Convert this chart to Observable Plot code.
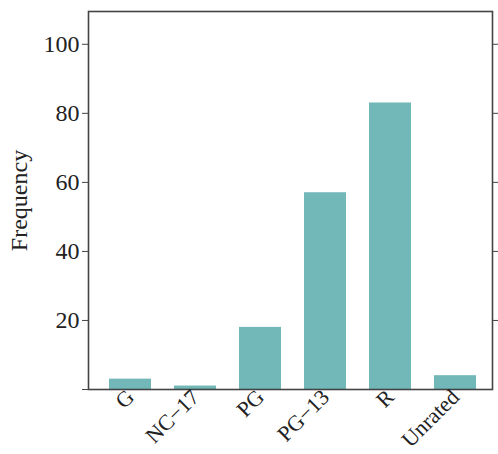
<!DOCTYPE html>
<html>
<head>
<meta charset="utf-8">
<script src="https://cdn.jsdelivr.net/npm/d3@7"></script>
<script src="https://cdn.jsdelivr.net/npm/@observablehq/plot@0.6"></script>
<style>
  html, body { margin: 0; padding: 0; background: #fff; }
  svg { display: block; }
</style>
</head>
<body>
<div id="chart"></div>
<script>
const ratings = ["G", "NC-17", "PG", "PG-13", "R", "Unrated"];
const labels = ["G", "NC\u221217", "PG", "PG\u221213", "R", "Unrated"];
const frequency = [3, 1, 18, 57, 83, 4];
const yTicks = [0, 20, 40, 60, 80, 100];
const yTickLabels = ["", "20", "40", "60", "80", "100"];

const data = ratings.map((r, i) => ({rating: r, freq: frequency[i]}));
const labelOf = new Map(ratings.map((r, i) => [r, labels[i]]));
const yLabelOf = new Map(yTicks.map((t, i) => [t, yTickLabels[i]]));

const chart = Plot.plot({
  width: 498,
  height: 454,
  marginLeft: 88,
  marginRight: 6,
  marginTop: 11,
  marginBottom: 65,
  style: {fontFamily: "'Liberation Serif', 'DejaVu Serif', serif", fontSize: "22px", color: "#333"},
  x: {domain: ratings, paddingInner: 0.36, paddingOuter: 0.18, insetLeft: 8, insetRight: 3},
  y: {domain: [0, 109.5]},
  marks: [
    Plot.barY(data, {x: "rating", y: "freq", fill: "#72b8b9"}),
    Plot.frame({stroke: "#444", strokeWidth: 1.6}),
    Plot.axisY({
      ticks: yTicks, tickFormat: t => yLabelOf.get(t), tickSize: 6, tickPadding: 3,
      label: "Frequency", labelAnchor: "center", labelArrow: "none", labelOffset: 79,
      stroke: "#444", fill: "#222", fontSize: 24
    }),
    Plot.axisY({
      anchor: "right", ticks: yTicks.slice(1), tickFormat: () => "", tickSize: 6, label: null, stroke: "#444"
    }),
    Plot.axisX({
      tickFormat: r => labelOf.get(r), tickSize: 0, tickPadding: 4, tickRotate: -45,
      label: null, fill: "#222", fontSize: 22
    })
  ]
});
document.getElementById("chart").appendChild(chart);
</script>
</body>
</html>
